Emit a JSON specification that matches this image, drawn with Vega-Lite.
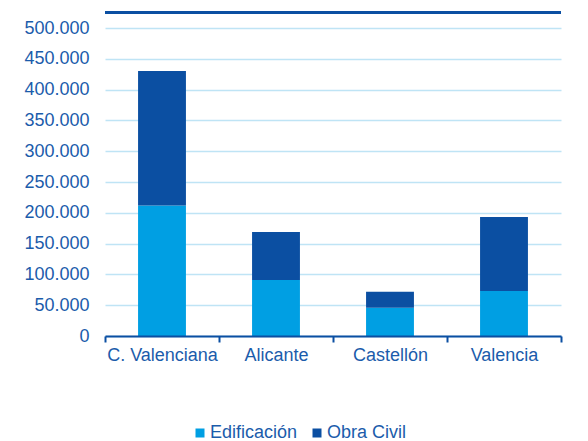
{
  "$schema": "https://vega.github.io/schema/vega-lite/v6.json",
  "width": 456,
  "height": 308,
  "autosize": {"type": "none"},
  "padding": {"left": 105, "top": 28, "right": 27, "bottom": 105},
  "background": "#ffffff",
  "config": {
    "view": {"stroke": null},
    "font": "Liberation Sans",
    "locale": {"number": {"decimal": ",", "thousands": ".", "grouping": [3], "currency": ["", " €"]}},
    "axisY": {
      "title": null,
      "values": [0, 50000, 100000, 150000, 200000, 250000, 300000, 350000, 400000, 450000, 500000],
      "format": ",.0f",
      "labelOverlap": false,
      "domain": false,
      "ticks": false,
      "labelPadding": 16,
      "labelFontSize": 18,
      "labelColor": "#1b5cab",
      "labelFont": "Liberation Sans",
      "grid": true,
      "gridColor": "#bfe4f5",
      "gridWidth": 1.3
    }
  },
  "data": {
    "values": [
      {"region": "C. Valenciana", "tipo": "Edificación", "valor": 212000},
      {"region": "C. Valenciana", "tipo": "Obra Civil", "valor": 218000},
      {"region": "Alicante", "tipo": "Edificación", "valor": 91000},
      {"region": "Alicante", "tipo": "Obra Civil", "valor": 78000},
      {"region": "Castellón", "tipo": "Edificación", "valor": 46000},
      {"region": "Castellón", "tipo": "Obra Civil", "valor": 26000},
      {"region": "Valencia", "tipo": "Edificación", "valor": 73000},
      {"region": "Valencia", "tipo": "Obra Civil", "valor": 120000}
    ]
  },
  "layer": [
    {
      "mark": {"type": "bar", "width": {"band": 0.42}},
      "encoding": {
        "x": {
          "field": "region",
          "type": "nominal",
          "sort": ["C. Valenciana", "Alicante", "Castellón", "Valencia"],
          "scale": {"paddingInner": 0, "paddingOuter": 0},
          "axis": {
            "title": null,
            "labelAngle": 0,
            "tickBand": "extent",
            "domainColor": "#0b4fa2",
            "domainWidth": 2,
            "tickColor": "#0b4fa2",
            "tickWidth": 2,
            "tickSize": 6,
            "labelPadding": 4,
            "labelFontSize": 18,
            "labelColor": "#1b5cab",
            "labelFont": "Liberation Sans",
            "zindex": 2
          }
        },
        "y": {
          "field": "valor",
          "type": "quantitative",
          "aggregate": "sum",
          "stack": "zero",
          "title": null,
          "scale": {"domain": [0, 500000], "nice": false},
          "axis": {"values": [0, 50000, 100000, 150000, 200000, 250000, 300000, 350000, 400000, 450000, 500000]}
        },
        "color": {
          "field": "tipo",
          "type": "nominal",
          "scale": {"domain": ["Edificación", "Obra Civil"], "range": ["#009fe3", "#0b4fa2"]},
          "legend": {
            "title": null,
            "orient": "none",
            "direction": "horizontal",
            "legendX": 86,
            "legendY": 396,
            "padding": 0,
            "symbolType": "square",
            "symbolSize": 81,
            "symbolStrokeWidth": 0,
            "labelFontSize": 18,
            "labelColor": "#1b5cab",
            "labelFont": "Liberation Sans",
            "labelOffset": 1,
            "columnPadding": 10
          }
        },
        "order": {"field": "tipo", "sort": "ascending"}
      }
    },
    {
      "mark": {"type": "rule", "color": "#0b4fa2", "strokeWidth": 2.5, "clip": false},
      "encoding": {
        "y": {
          "datum": 525000,
          "type": "quantitative",
          "title": null,
          "axis": {"values": [0, 50000, 100000, 150000, 200000, 250000, 300000, 350000, 400000, 450000, 500000]}
        }
      }
    }
  ]
}
